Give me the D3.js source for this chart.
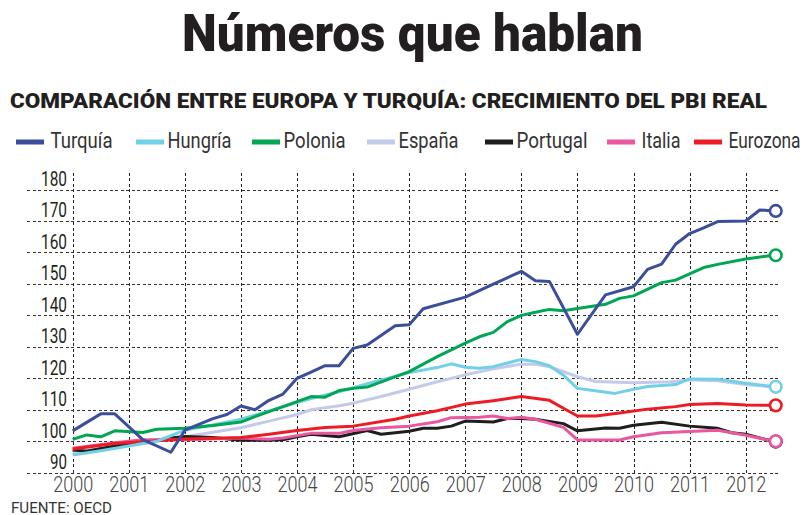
<!DOCTYPE html>
<html>
<head>
<meta charset="utf-8">
<script src="https://cdn.jsdelivr.net/npm/d3@7"></script>
<style>
  body { margin: 0; background: #fff; }
  svg { display: block; font-family: Roboto, "Noto Sans", sans-serif; }
</style>
</head>
<body>
<div id="chart"></div>
<script>
// Years on the x axis and values on the y axis
const years = [2000, 2001, 2002, 2003, 2004, 2005, 2006, 2007, 2008, 2009, 2010, 2011, 2012];
const yTicks = [90, 100, 110, 120, 130, 140, 150, 160, 170, 180];

// Series names and colours (legend order)
const names = ["Turquía", "Hungría", "Polonia", "España", "Portugal", "Italia", "Eurozona"];
const colors = ["#3b4e9b", "#72cfe8", "#00a651", "#c4cae9", "#1e1e1e", "#e9579f", "#ed1c24"];

// Real GDP index, [year, value]
const turquia = [[2000,103.3],[2000.5,108.7],[2000.75,108.7],[2001.25,100.5],[2001.75,96.5],[2002,103.5],[2002.5,107.2],[2002.75,108.5],[2003,111.2],[2003.25,110],[2003.5,113],[2003.75,115],[2004,120],[2004.25,122],[2004.5,124],[2004.75,124],[2005,129.5],[2005.25,130.6],[2005.75,136.7],[2006,137],[2006.25,142.1],[2007,145.8],[2007.5,149.9],[2008,154],[2008.25,151],[2008.5,150.8],[2009,134],[2009.5,146.5],[2010,149.1],[2010.25,154.6],[2010.5,156.3],[2010.75,162.6],[2011,166],[2011.25,167.8],[2011.5,169.8],[2012,170],[2012.25,173.5],[2012.5,173.2]];
const hungria = [[2000,95.6],[2000.5,97],[2001,98.5],[2001.5,100],[2002,103.5],[2002.5,105.2],[2003,107],[2003.5,109.6],[2004,112.3],[2004.25,113.6],[2004.75,115.7],[2005,117],[2005.5,119.5],[2006,121.8],[2006.5,123.4],[2006.75,124.6],[2007,123.5],[2007.25,123.2],[2007.5,123.7],[2008,126],[2008.25,125.3],[2008.5,124],[2008.75,121],[2009,116.8],[2009.25,116.2],[2009.67,115.2],[2010,116.5],[2010.25,117.4],[2010.75,118],[2011,119.8],[2011.5,119.7],[2012,118.4],[2012.5,117.3]];
const polonia = [[2000,100.6],[2000.25,102],[2000.5,101.4],[2000.75,103.3],[2001.25,102.8],[2001.5,103.8],[2002,104.1],[2002.5,105],[2003,106.1],[2003.25,107.8],[2003.5,109.4],[2004,112.6],[2004.25,114.2],[2004.5,114],[2004.75,116.1],[2005,116.8],[2005.25,117.2],[2006,122.1],[2006.5,126.9],[2007,131.2],[2007.25,133.2],[2007.5,134.6],[2007.75,138],[2008,140],[2008.25,141],[2008.5,141.9],[2008.75,141.5],[2009,142.2],[2009.5,143.5],[2009.75,145.4],[2010,146.2],[2010.5,150.4],[2010.75,151.2],[2011,153.2],[2011.25,155.2],[2011.5,156.2],[2012,157.9],[2012.5,159.1]];
const espana = [[2000,96.5],[2001,99],[2002,101.4],[2003,104.3],[2003.5,106.4],[2004,108.5],[2004.25,110],[2004.75,111.3],[2005,112.1],[2005.5,114.2],[2006,116.5],[2006.5,118.9],[2007,121.1],[2007.5,123],[2008,124.5],[2008.25,124.5],[2008.5,123.7],[2009,120.5],[2009.33,119],[2010,118.6],[2010.67,118.9],[2011,119.5],[2011.5,119.2],[2012,118],[2012.5,117.3]];
const portugal = [[2000,97.2],[2000.25,96.8],[2000.75,98.5],[2001.25,99.6],[2001.75,101],[2002,101.5],[2002.5,101.2],[2003,100.3],[2003.5,100.3],[2003.75,100.5],[2004,101.4],[2004.25,102.2],[2004.75,101.4],[2005.25,103.4],[2005.5,102.2],[2006,103.2],[2006.25,104.1],[2006.5,104.1],[2006.75,104.8],[2007,106.4],[2007.5,106.1],[2007.75,107.2],[2008,107.2],[2008.25,107],[2008.75,105.6],[2009,103.3],[2009.5,104.2],[2009.75,104.1],[2010,105.1],[2010.5,106],[2011,104.8],[2011.5,104.1],[2011.75,102.7],[2012,102.2],[2012.5,99.9]];
const italia = [[2000,97.8],[2000.75,99.5],[2001.25,100.5],[2002,100.5],[2003,101],[2003.5,100.6],[2003.75,101],[2004.25,102.5],[2004.75,102.5],[2005,103.4],[2005.5,104.3],[2006,104.8],[2006.5,106.2],[2006.75,107.5],[2007.25,107.6],[2007.5,108],[2007.75,107.2],[2008,107.6],[2008.25,107],[2008.75,104.4],[2009,100.4],[2009.75,100.4],[2010,101.4],[2010.5,102.7],[2011.5,103.5],[2012,101.9],[2012.5,100]];
const eurozona = [[2000,97.5],[2000.75,99.3],[2002,100.7],[2003,101.2],[2003.5,102.2],[2004,103.4],[2004.5,104.4],[2005,104.8],[2005.75,107],[2006,108],[2006.5,109.7],[2007,111.8],[2007.5,112.9],[2008,114.2],[2008.5,113],[2008.75,110.5],[2009,108],[2009.33,108],[2009.75,109],[2010.25,110.2],[2010.75,111],[2011,111.7],[2011.5,112],[2012,111.5],[2012.5,111.4]];

const seriesData = [turquia, hungria, polonia, espana, portugal, italia, eurozona];
// drawing order: bottom to top
const drawOrder = [3, 4, 5, 6, 1, 2, 0];
const withCircle = [true, true, true, false, true, true, true];

const W = 807, H = 515;
const svg = d3.select("#chart").append("svg").attr("width", W).attr("height", H);

// Title and subtitle
svg.append("text")
  .attr("x", 182).attr("y", 51)
  .attr("textLength", 461).attr("lengthAdjust", "spacingAndGlyphs")
  .style("font-size", "52px").style("font-weight", 900).attr("fill", "#231f20")
  .text("Números que hablan");

svg.append("text")
  .attr("x", 10).attr("y", 108)
  .attr("textLength", 757).attr("lengthAdjust", "spacingAndGlyphs")
  .style("font-size", "21px").style("font-weight", 900).attr("fill", "#231f20")
  .text("COMPARACIÓN ENTRE EUROPA Y TURQUÍA: CRECIMIENTO DEL PBI REAL");

// Legend
const legendX = [16, 136, 252, 367, 485, 607, 694];
const legendTextW = [62, 64, 62, 60, 71, 39, 72];
const legend = svg.append("g");
names.forEach((n, i) => {
  const last = i === names.length - 1;
  const tx = legendX[i] + (i === 0 || i === 5 || last ? 34.5 : 31.5);
  legend.append("rect")
    .attr("x", legendX[i]).attr("y", 139.5).attr("width", 28).attr("height", 5)
    .attr("fill", colors[i]);
  legend.append("text")
    .attr("x", last ? tx + legendTextW[i] : tx).attr("y", 148)
    .attr("text-anchor", last ? "end" : "start")
    .attr("textLength", legendTextW[i]).attr("lengthAdjust", "spacingAndGlyphs")
    .style("font-size", "22px").attr("fill", "#333")
    .text(n);
});

// Scales
const x = d3.scaleLinear().domain([2000, 2012]).range([72.7, 745.7]);
const y = d3.scaleLinear().domain([90, 180]).range([472.7, 189.5]);
const gridLeft = 27, gridRight = 780, gridTop = 173;

// Horizontal grid + y labels
const yAxis = svg.append("g")
  .attr("transform", `translate(${gridLeft},0)`)
  .call(d3.axisLeft(y).tickValues(yTicks).tickSize(-(gridRight - gridLeft)).tickPadding(0));
yAxis.select(".domain").remove();
yAxis.selectAll("line").attr("stroke", "#333").attr("stroke-dasharray", "3,2.5")
  .attr("shape-rendering", "crispEdges");
yAxis.selectAll("text")
  .attr("x", 40).attr("dy", "-4")
  .attr("text-anchor", "end")
  .attr("textLength", 26).attr("lengthAdjust", "spacingAndGlyphs")
  .style("font-size", "20px").style("font-family", "Roboto, sans-serif").attr("fill", "#231f20");
yAxis.selectAll("text").filter(d => d < 100).attr("textLength", 17);

// Vertical grid + x labels
const xAxis = svg.append("g")
  .attr("transform", `translate(0,${y(90)})`)
  .call(d3.axisBottom(x).tickValues(years).tickFormat(d3.format("d"))
    .tickSize(-(y(90) - gridTop)).tickPadding(4));
xAxis.select(".domain").remove();
xAxis.selectAll("line").attr("stroke", "#222").attr("stroke-dasharray", "3,2.5")
  .attr("shape-rendering", "crispEdges");
xAxis.selectAll("text")
  .attr("textLength", 40).attr("lengthAdjust", "spacingAndGlyphs")
  .style("font-size", "22px").style("font-weight", 300).style("font-family", "Roboto, sans-serif")
  .attr("fill", "#444");

// Lines
const line = d3.line().x(d => x(d[0])).y(d => y(d[1]));
const plot = svg.append("g");
drawOrder.forEach(i => {
  plot.append("path")
    .datum(seriesData[i])
    .attr("d", line)
    .attr("fill", "none")
    .attr("stroke", colors[i])
    .attr("stroke-width", 3)
    .attr("stroke-linejoin", "round");
});
drawOrder.forEach(i => {
  if (!withCircle[i]) return;
  const last = seriesData[i][seriesData[i].length - 1];
  plot.append("circle")
    .attr("cx", x(last[0]) + 2).attr("cy", y(last[1]))
    .attr("r", 5.8)
    .attr("fill", "#fff")
    .attr("stroke", colors[i])
    .attr("stroke-width", 2.6);
});

// Source
svg.append("text")
  .attr("x", 11).attr("y", 513)
  .attr("textLength", 101).attr("lengthAdjust", "spacingAndGlyphs")
  .style("font-size", "14px").attr("fill", "#333")
  .text("FUENTE: OECD");
</script>
</body>
</html>
